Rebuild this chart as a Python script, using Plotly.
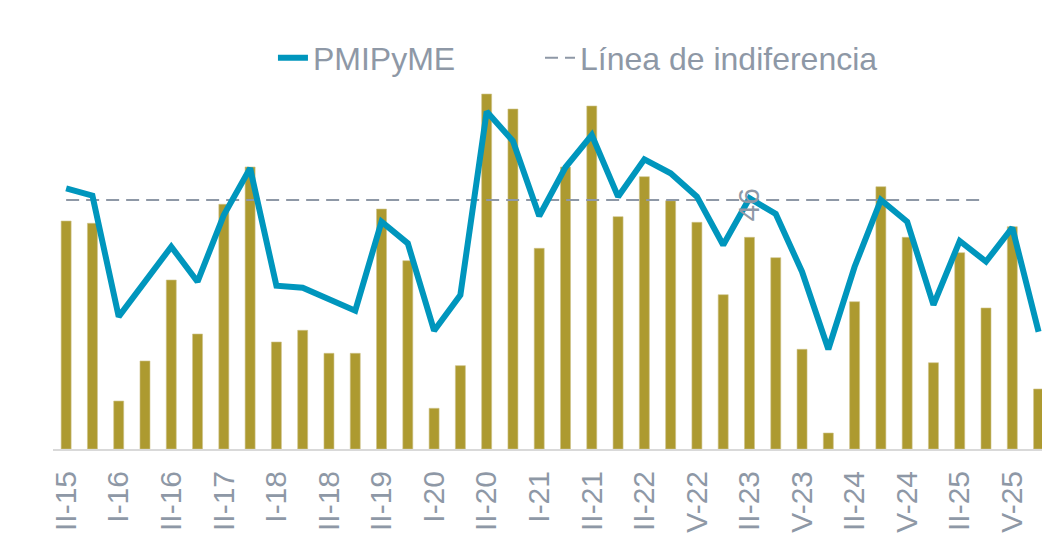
import plotly.graph_objects as go

categories = ["II-15", "", "I-16", "", "II-16", "", "II-17", "", "I-18", "", "II-18", "",
              "II-19", "", "I-20", "", "II-20", "", "I-21", "", "II-21", "", "II-22", "",
              "V-22", "", "II-23", "", "V-23", "", "II-24", "", "V-24", "", "II-25", "",
              "V-25", ""]

pmipyme = [50.94, 50.35, 40.63, 43.42, 46.25, 43.44, 48.80, 52.55, 43.12, 42.96,
           42.05, 41.11, 48.26, 46.52, 39.50, 42.37, 57.10, 54.74, 48.72, 52.63,
           55.22, 50.27, 53.27, 52.15, 50.27, 46.39, 50.14, 48.88, 44.24, 38.01,
           44.64, 50.00, 48.26, 41.57, 46.71, 45.05, 47.78, 39.42]

bars = [37.07, 36.70, 7.80, 14.31, 27.48, 18.70, 39.79, 45.85, 17.40, 19.30,
        15.56, 15.56, 39.02, 30.62, 6.62, 13.55, 57.72, 55.28, 32.63, 45.85,
        55.77, 37.78, 44.28, 40.37, 36.86, 25.09, 34.42, 31.11, 16.21, 2.60,
        23.95, 42.65, 34.42, 14.03, 31.92, 22.93, 36.15, 9.76]

indiferencia = [50] * 36

x_idx = list(range(len(categories)))
tick_vals = [i for i in x_idx if categories[i]]
tick_text = [categories[i] for i in tick_vals]

GRAY = "#8E98A6"
TEAL = "#0096BD"
OLIVE = "#AD9A30"

fig = go.Figure()
fig.add_trace(go.Bar(x=x_idx, y=bars, marker=dict(color=OLIVE, line=dict(color="#CFC38A", width=0.6)),
                     showlegend=False, yaxis="y"))
fig.add_trace(go.Scatter(x=x_idx[:len(indiferencia)], y=indiferencia, mode="lines",
                         name="Línea de indiferencia", legend="legend2",
                         line=dict(color=GRAY, width=2, dash="13px,7px"), yaxis="y2"))
fig.add_trace(go.Scatter(x=x_idx, y=pmipyme, mode="lines", name="PMIPyME", legend="legend",
                         line=dict(color=TEAL, width=6), yaxis="y2"))

fig.add_annotation(x=26, y=49.6, xref="x", yref="y2", text="46", textangle=-90,
                   showarrow=False, font=dict(size=30, color=GRAY))

legend_font = dict(family="Liberation Sans, Arial, sans-serif", size=32, color=GRAY)

fig.update_layout(
    width=1042, height=534, autosize=False,
    margin=dict(l=53, r=0, t=80, b=85),
    paper_bgcolor="white", plot_bgcolor="white",
    font=dict(family="Liberation Sans, Arial, sans-serif", color=GRAY),
    bargap=0.62,
    showlegend=True,
    legend=dict(orientation="h", x=0.2224, xanchor="left", y=1.06, yanchor="middle",
                font=legend_font),
    legend2=dict(orientation="h", x=0.4924, xanchor="left", y=1.06, yanchor="middle",
                 font=legend_font),
    xaxis=dict(range=[-0.5, 37.13], tickmode="array", tickvals=tick_vals, ticktext=tick_text,
               tickangle=-90, tickfont=dict(size=30, color=GRAY), showgrid=False,
               showline=True, linecolor="#D9D9D9", linewidth=2, ticks="", automargin=False,
               zeroline=False, ticklabelstandoff=8),
    yaxis=dict(range=[0, 60], visible=False, showgrid=False, fixedrange=True),
    yaxis2=dict(range=[30, 59.64], overlaying="y", visible=False, showgrid=False),
)

fig.write_html("out.html", config={"displayModeBar": False},
               post_script="document.body.style.margin='0';document.body.style.overflow='hidden';")
